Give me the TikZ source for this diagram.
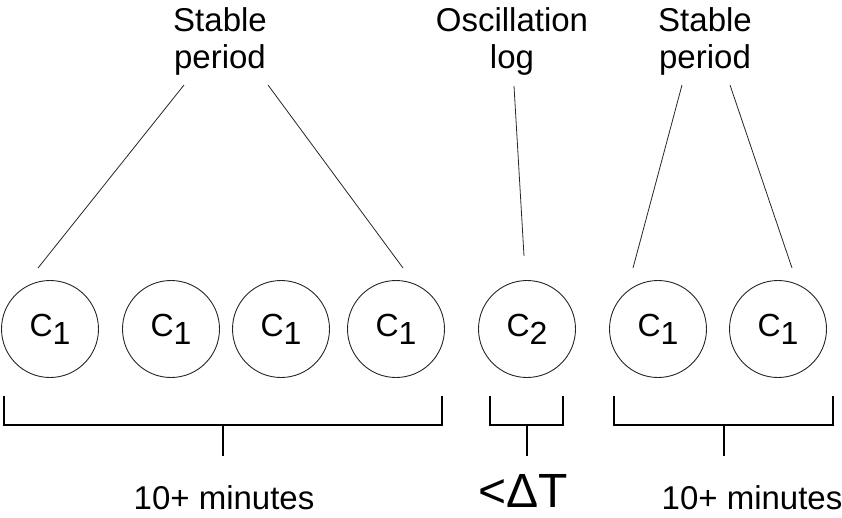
\documentclass[tikz,border=0pt]{standalone}
\usepackage{fontspec}
\setmainfont{Liberation Sans}
\usetikzlibrary{positioning}

\begin{document}
\begin{tikzpicture}[
  x=1pt, y=1pt,
  state/.style={circle, draw=black!85, line width=0.9pt, minimum size=97pt, inner sep=0pt, font=\fontsize{32}{32}\selectfont},
  lbl/.style={align=center, font=\fontsize{33}{37}\selectfont, inner sep=0pt},
  tie/.style={draw=black!85, line width=0.8pt},
  span/.style={draw=black, line width=1.6pt}
]
\useasboundingbox (0,0) rectangle (842,-517);

% channel states
\node[state] (s1) at (50,-329)  {C\raisebox{-8pt}{1}};
\node[state] (s2) at (171,-329) {C\raisebox{-8pt}{1}};
\node[state] (s3) at (281,-329) {C\raisebox{-8pt}{1}};
\node[state] (s4) at (396,-329) {C\raisebox{-8pt}{1}};
\node[state] (s5) at (527,-329) {C\raisebox{-8pt}{2}};
\node[state] (s6) at (658,-329) {C\raisebox{-8pt}{1}};
\node[state] (s7) at (778,-329) {C\raisebox{-8pt}{1}};

% labels on top
\node[lbl, anchor=north] (stab1) at (220,-7) {Stable\\period};
\node[lbl, anchor=north] (osc)   at (512,-7) {Oscillation\\log};
\node[lbl, anchor=north] (stab2) at (705,-7) {Stable\\period};

% ends of the pointer lines
\coordinate (p1) at (184,-85);  \coordinate (q1) at (38,-268);
\coordinate (p2) at (268,-85);  \coordinate (q2) at (403,-268);
\coordinate (p3) at (514,-86);  \coordinate (q3) at (524,-256);
\coordinate (p4) at (682,-85);  \coordinate (q4) at (633,-268);
\coordinate (p5) at (730,-85);  \coordinate (q5) at (792,-268);
\foreach \i in {1,...,5}
  \draw[tie] (p\i) -- (q\i);

% brackets under the states
\foreach \a/\b/\m in {4/442/223, 490/563/527, 614/833/724}
  \draw[span] (\a,-396) |- (\b,-425) -- (\b,-396) (\m,-425) -- (\m,-456);

\node[lbl, anchor=base] (dur1) at (224,-509) {10+ minutes};
\node[lbl, anchor=base, font=\fontsize{48}{48}\selectfont] (dur2) at (523,-507) {<ΔT};
\node[lbl, anchor=base] (dur3) at (752,-509) {10+ minutes};
\end{tikzpicture}
\end{document}
